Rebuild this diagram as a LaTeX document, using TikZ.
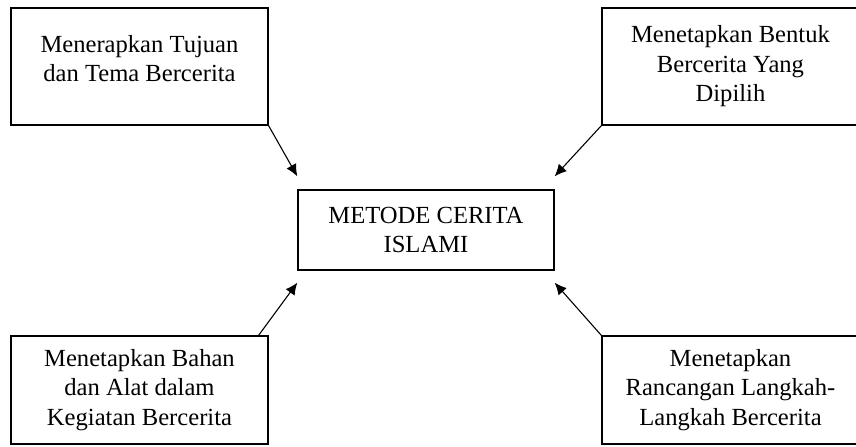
\documentclass[tikz,border=0pt]{standalone}
\usepackage{fontspec}
\setmainfont{Liberation Serif}
\usetikzlibrary{arrows.meta}

\begin{document}
\begin{tikzpicture}[scale=1,
        kotak/.style={draw, line width=0.65pt, align=center, inner sep=2pt, font=\fontsize{12.3}{14.75}\selectfont},
        pojok/.style={kotak, minimum width=4.516cm},
        panah/.style={-{Latex[length=6pt,width=5.5pt]}, line width=0.55pt}]
                        % \helpgrid{15}{8}
                        \useasboundingbox (0,0) rectangle (15.043,7.838);
                        \clip (0,0) rectangle (15.043,7.838);

                        \node [kotak, minimum width=4.499cm, minimum height=1.406cm] (metode) at (7.486,3.796) {METODE CERITA\\ISLAMI};
                        \node [pojok, minimum height=2.056cm, text depth=8pt] (tujuan) at (2.451,6.669) {Menerapkan Tujuan\\dan Tema Bercerita};
                        \node [pojok, minimum height=2.056cm] (bentuk) at (12.837,6.669) {Menetapkan Bentuk\\Bercerita Yang\\Dipilih};
                        \node [pojok, minimum height=1.898cm] (bahan) at (2.451,0.984) {Menetapkan Bahan\\dan Alat dalam\\Kegiatan Bercerita};
                        \node [pojok, minimum height=1.898cm] (rancangan) at (12.837,0.984) {Menetapkan\\Rancangan Langkah-\\Langkah Bercerita};

                        \draw [panah] (tujuan.south east)--([yshift=6.5pt]metode.north west);
                        \draw [panah] (bentuk.south west)--([yshift=6.5pt]metode.north east);
                        \draw [panah] ([xshift=-5pt]bahan.north east)--([yshift=-6pt]metode.south west);
                        \draw [panah] (rancangan.north west)--([yshift=-6pt]metode.south east);
                    \end{tikzpicture}
\end{document}
